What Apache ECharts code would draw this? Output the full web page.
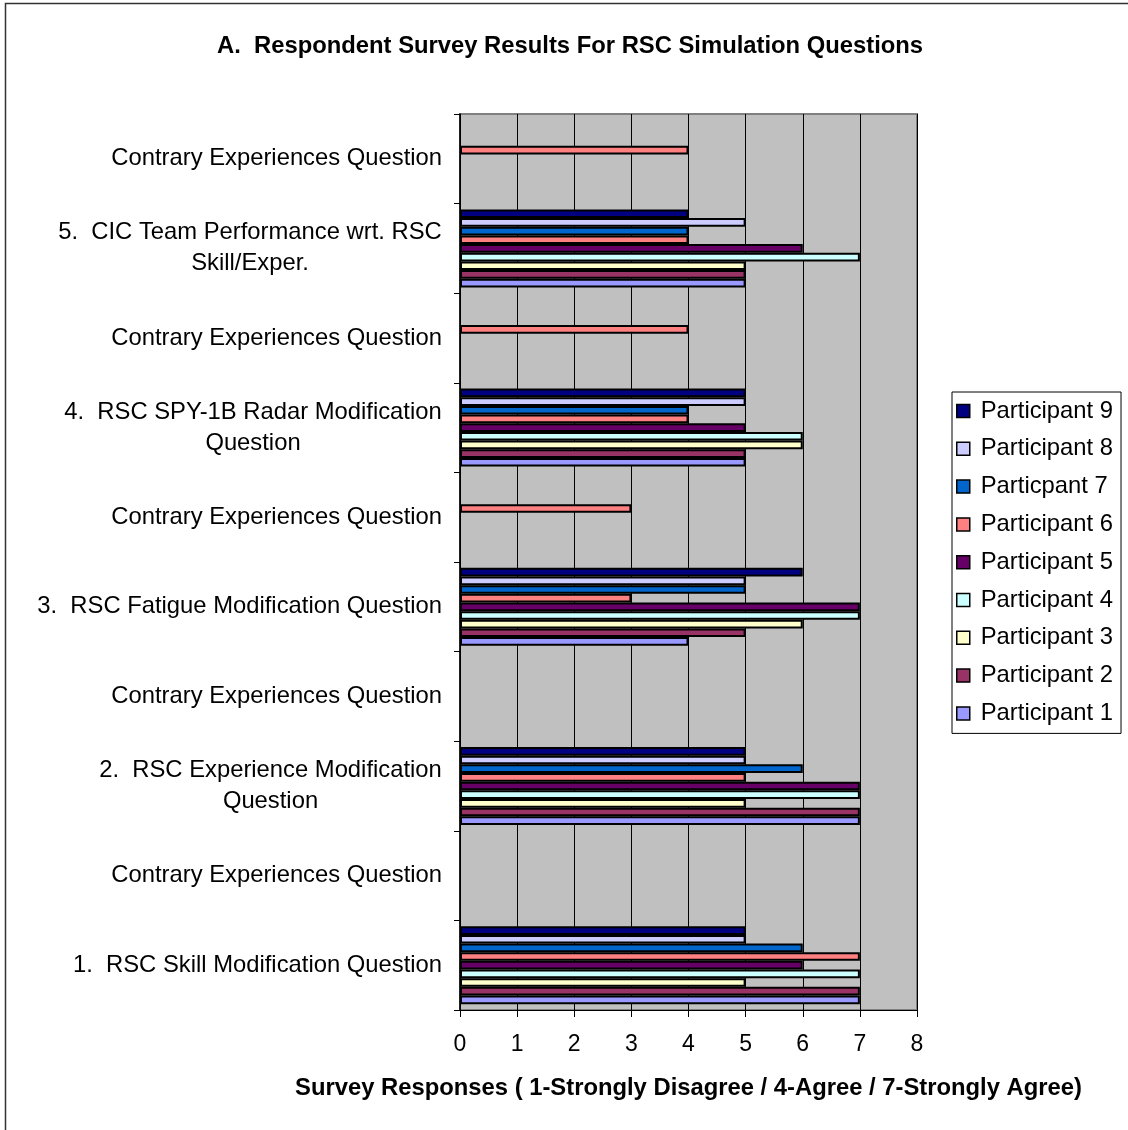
<!DOCTYPE html>
<html>
<head>
<meta charset="utf-8">
<script src="https://cdn.jsdelivr.net/npm/echarts@6/dist/echarts.min.js"></script>
<style>
  html, body { margin: 0; padding: 0; background: #fff; }
  #chart-wrap { width: 1128px; height: 1130px; }
</style>
</head>
<body>
<div id="chart-wrap"></div>
<script>
// categories from bottom to top
var questions = [
  '1.  RSC Skill Modification Question',
  'Contrary Experiences Question',
  '2.  RSC Experience Modification\nQuestion',
  'Contrary Experiences Question',
  '3.  RSC Fatigue Modification Question',
  'Contrary Experiences Question',
  '4.  RSC SPY-1B Radar Modification\nQuestion',
  'Contrary Experiences Question',
  '5.  CIC Team Performance wrt. RSC\nSkill/Exper.',
  'Contrary Experiences Question'
];
var participants = ['Participant 1', 'Participant 2', 'Participant 3', 'Participant 4',
  'Participant 5', 'Participant 6', 'Particpant 7', 'Participant 8', 'Participant 9'];
var colors = ['#9999FF', '#993366', '#FFFFCC', '#CCFFFF', '#660066',
  '#FF8080', '#0066CC', '#CCCCFF', '#000080'];
var p1 = [7, '-', 7, '-', 4, '-', 5, '-', 5, '-'];
var p2 = [7, '-', 7, '-', 5, '-', 5, '-', 5, '-'];
var p3 = [5, '-', 5, '-', 6, '-', 6, '-', 5, '-'];
var p4 = [7, '-', 7, '-', 7, '-', 6, '-', 7, '-'];
var p5 = [6, '-', 7, '-', 7, '-', 5, '-', 6, '-'];
var p6 = [7, '-', 5, '-', 3, 3, 4, 4, 4, 4];
var p7 = [6, '-', 6, '-', 5, '-', 4, '-', 4, '-'];
var p8 = [5, '-', 5, '-', 5, '-', 5, '-', 5, '-'];
var p9 = [5, '-', 5, '-', 6, '-', 5, '-', 4, '-'];
var xTicks = [0, 1, 2, 3, 4, 5, 6, 7, 8];
var allData = [p1, p2, p3, p4, p5, p6, p7, p8, p9];

var fontFam = '"Liberation Sans", Arial, sans-serif';
var labelSize = 23.8;

// multi-line labels: centre each line under the widest one
var ctx = document.createElement('canvas').getContext('2d');
ctx.font = labelSize + 'px ' + fontFam;
var rich = {};
var labelText = questions.map(function (q, i) {
  if (q.indexOf('\n') < 0) return q;
  var lines = q.split('\n');
  var w = 0;
  lines.forEach(function (l) { w = Math.max(w, ctx.measureText(l).width); });
  rich['c' + i] = { width: Math.ceil(w), align: 'center', fontSize: labelSize, fontFamily: fontFam, color: '#000', lineHeight: 31 };
  return lines.map(function (l) { return '{c' + i + '|' + l + '}'; }).join('\n');
});

// first series sits at the top of each group, so add Participant 9 first
var series = [];
for (var i = participants.length - 1; i >= 0; i--) {
  series.push({
    name: participants[i],
    type: 'bar',
    data: allData[i],
    barGap: '0%',
    barCategoryGap: '13%',
    itemStyle: { color: colors[i], borderColor: '#000', borderWidth: 2 },
    emphasis: { disabled: true }
  });
}

var myChart = echarts.init(document.getElementById('chart-wrap'));
var option = {
  animation: false,
  backgroundColor: '#fff',
  title: {
    text: 'A.  Respondent Survey Results For RSC Simulation Questions',
    left: 217,
    top: 34,
    padding: 0,
    textStyle: { fontSize: 23.8, fontWeight: 'bold', fontFamily: fontFam, color: '#000' }
  },
  legend: {
    orient: 'vertical',
    left: 952,
    top: 392,
    padding: [6, 8, 7, 4],
    itemWidth: 13,
    itemHeight: 13,
    itemGap: 11.8,
    icon: 'rect',
    borderColor: '#000',
    borderWidth: 1,
    data: participants.slice().reverse(),
    itemStyle: { borderColor: '#000', borderWidth: 1.5 },
    textStyle: { fontSize: 23.8, fontFamily: fontFam, color: '#000', lineHeight: 26, padding: [0, 0, 0, 6] }
  },
  grid: {
    left: 460,
    right: 211,
    top: 114,
    bottom: 120,
    show: true,
    backgroundColor: '#C0C0C0',
    borderColor: '#808080',
    borderWidth: 2
  },
  xAxis: {
    type: 'value',
    min: 0,
    max: 8,
    interval: 1,
    name: 'Survey Responses ( 1-Strongly Disagree / 4-Agree / 7-Strongly Agree)',
    nameLocation: 'middle',
    nameGap: 66,
    nameTextStyle: { fontSize: 23.8, fontWeight: 'bold', fontFamily: fontFam, color: '#000' },
    axisLine: { show: true, lineStyle: { color: '#000', width: 1 } },
    axisTick: { show: true, length: 7, lineStyle: { color: '#000' } },
    axisLabel: {
      margin: 23, fontSize: 23, fontFamily: fontFam, color: '#000',
      formatter: function (v) { return xTicks.indexOf(v) >= 0 ? String(v) : ''; }
    },
    splitLine: { show: true, lineStyle: { color: '#000', width: 1 } }
  },
  yAxis: {
    type: 'category',
    data: labelText,
    axisLine: { show: true, lineStyle: { color: '#000', width: 1.5 } },
    axisTick: { show: true, length: 6, alignWithLabel: false, lineStyle: { color: '#000' } },
    axisLabel: {
      margin: 18, fontSize: labelSize, fontFamily: fontFam, color: '#000',
      lineHeight: 31, rich: rich, interval: 0
    },
    splitLine: { show: false }
  },
  graphic: [{
    type: 'rect',
    shape: { x: 5.5, y: 3.5, width: 1130, height: 1130 },
    style: { fill: null, stroke: '#333', lineWidth: 1.5 },
    silent: true
  }],
  series: series
};
myChart.setOption(option);
</script>
</body>
</html>
